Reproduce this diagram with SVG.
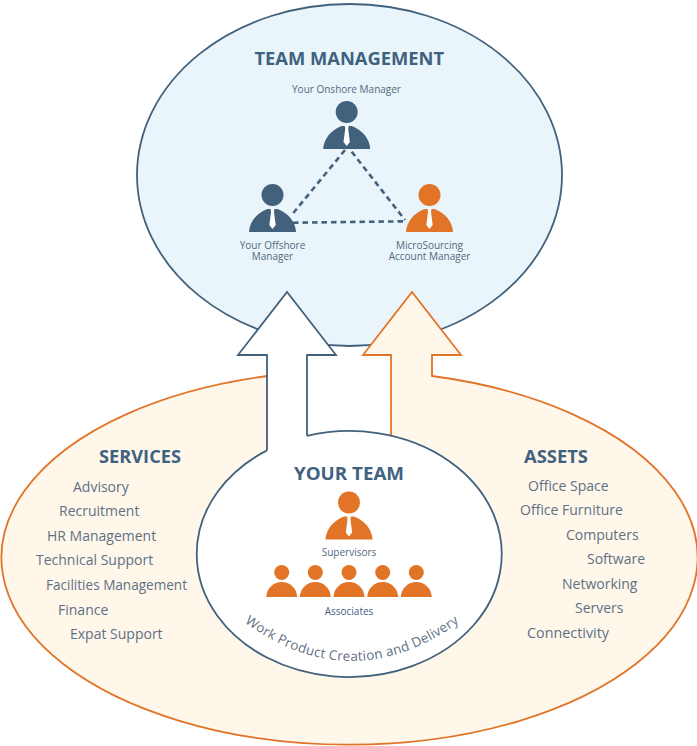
<svg xmlns="http://www.w3.org/2000/svg" width="697" height="746" viewBox="0 0 697 746">
<style>
text{font-family:"Open Sans","Noto Sans","DejaVu Sans",sans-serif}
.h{font-weight:700;fill:#3f6280;font-size:18.500px}
.l{fill:#5f7085;font-size:14px}
.s{fill:#53697f;font-size:10px;text-anchor:middle}
.blue{fill:#42617c}
.org{fill:#e27428}
.dash{stroke:#42617c;stroke-width:2.600;stroke-dasharray:5.500 4;fill:none}
</style>
<defs>
<g id="manager">
<circle cx="0" cy="-37" r="11"/>
<path d="M-23.500,0 C-23,-10 -16,-19 -5,-23 L5,-23 C16,-19 23,-10 23.500,0 Z"/>
<path d="M-2,-24 L2,-24 L1.500,-20 L3.200,-7 L0,-3 L-3.200,-7 L-1.500,-20 Z" fill="#fff"/>
</g>
<g id="associate">
<circle cx="0" cy="-24.500" r="7.500"/>
<path d="M-15.500,0 C-15,-9 -8,-15 0,-15 C8,-15 15,-9 15.500,0 Z"/>
</g>
</defs>
<g id="team-management">
<ellipse cx="349.500" cy="175" rx="212.500" ry="171" fill="#e9f5fa" stroke="#42617c" stroke-width="1.800"/>
<text class="h" x="254.500" y="65" textLength="189.500" lengthAdjust="spacingAndGlyphs">TEAM MANAGEMENT</text>
</g>
<g id="services-assets">
<path d="M267,376 A348,187 0 1 0 432,376 L432,355 L461,355 L412,292 L363,355 L391,355 L391,500 L267,500 Z" fill="#fef7ea" stroke="#e27428" stroke-width="1.800"/>
<text class="h" x="99" y="463" textLength="82" lengthAdjust="spacingAndGlyphs">SERVICES</text>
<text class="l" x="73" y="492">Advisory</text>
<text class="l" x="59" y="516">Recruitment</text>
<text class="l" x="47" y="541">HR Management</text>
<text class="l" x="36" y="565">Technical Support</text>
<text class="l" x="46" y="590" textLength="141" lengthAdjust="spacingAndGlyphs">Facilities Management</text>
<text class="l" x="58" y="615">Finance</text>
<text class="l" x="70" y="639">Expat Support</text>
<text class="h" x="524" y="463" textLength="64" lengthAdjust="spacingAndGlyphs">ASSETS</text>
<text class="l" x="528" y="491">Office Space</text>
<text class="l" x="520" y="515">Office Furniture</text>
<text class="l" x="566" y="540">Computers</text>
<text class="l" x="587" y="564">Software</text>
<text class="l" x="562" y="589">Networking</text>
<text class="l" x="575" y="613">Servers</text>
<text class="l" x="527" y="638" textLength="82" lengthAdjust="spacingAndGlyphs">Connectivity</text>
</g>
<g id="left-arrow">
<path d="M267,500 L267,355 L238,355 L287,292 L336,355 L307,355 L307,500 Z" fill="#fff" stroke="#42617c" stroke-width="1.800"/>
</g>
<g id="your-team">
<ellipse cx="349.200" cy="554" rx="152.500" ry="123" fill="#fff"/>
<path d="M307,435.800 A152.500,123 0 1 1 267,450.400" fill="none" stroke="#42617c" stroke-width="1.800"/>
<text class="h" x="294" y="480" textLength="110" lengthAdjust="spacingAndGlyphs">YOUR TEAM</text>
<use href="#manager" class="org" x="349" y="539.500"/>
<text class="s" x="349" y="556">Supervisors</text>
<use href="#associate" class="org" x="281.700" y="597"/>
<use href="#associate" class="org" x="315.300" y="597"/>
<use href="#associate" class="org" x="349" y="597"/>
<use href="#associate" class="org" x="382.700" y="597"/>
<use href="#associate" class="org" x="416.300" y="597"/>
<text class="s" x="349" y="615" style="fill:#42617c;font-weight:500">Associates</text>
<path id="curve" d="M240,619 Q351,703 464,619" fill="none"/>
<text fill="#5f7085" font-size="13.400" letter-spacing="0.250"><textPath href="#curve" startOffset="50%" text-anchor="middle">Work Product Creation and Delivery</textPath></text>
</g>
<g id="connectors">
<path class="dash" d="M345,150 L291.700,215"/>
<path class="dash" d="M351.700,151.700 L405,220"/>
<path class="dash" d="M293,222.700 L405,221.300"/>
</g>
<g id="onshore-manager">
<use href="#manager" class="blue" x="346.700" y="149"/>
<text class="s" x="346.500" y="93">Your Onshore Manager</text>
</g>
<g id="offshore-manager">
<use href="#manager" class="blue" x="272.500" y="232"/>
<text class="s" x="272.500" y="249">Your Offshore</text>
<text class="s" x="272.500" y="260">Manager</text>
</g>
<g id="account-manager">
<use href="#manager" class="org" x="429.500" y="232"/>
<text class="s" x="429.500" y="249">MicroSourcing</text>
<text class="s" x="429.500" y="260">Account Manager</text>
</g>
</svg>
